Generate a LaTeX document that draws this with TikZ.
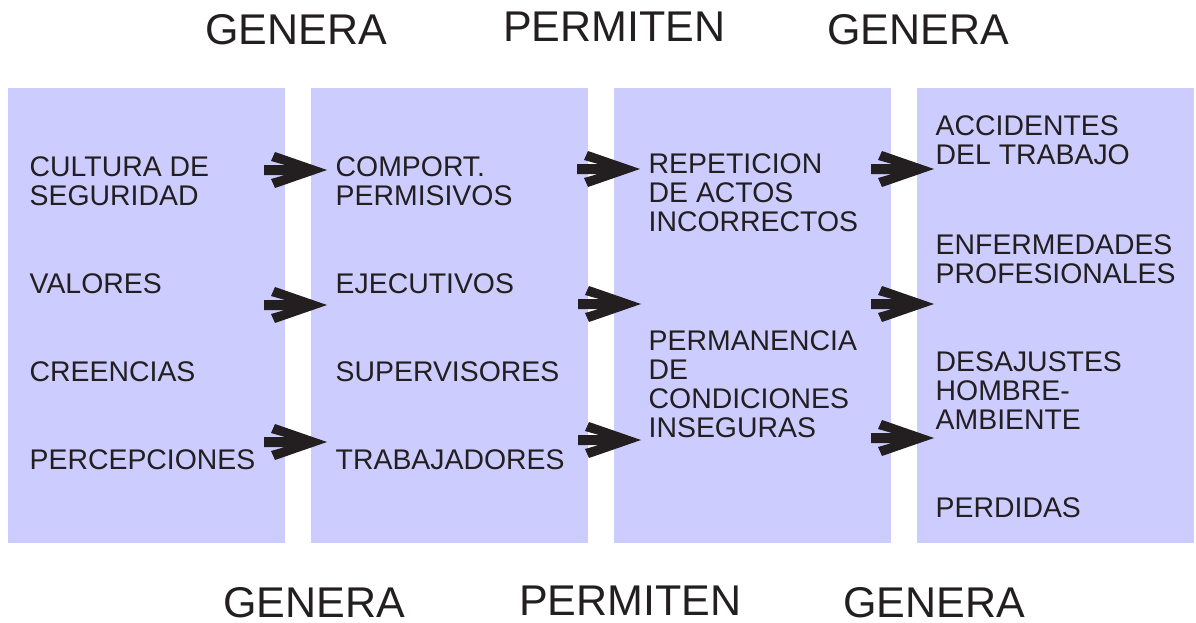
\documentclass[tikz,border=0pt]{standalone}
\usepackage{fontspec}
\setmainfont{Liberation Sans}
\definecolor{panel}{HTML}{CCCCFF}
\definecolor{ink}{HTML}{231F20}
\tikzset{
  panelbox/.style={fill=panel, draw=none, inner sep=0pt, anchor=north west, minimum width=277pt, minimum height=455pt},
  item/.style={anchor=north west, inner sep=0pt, align=left, text=ink, font=\fontsize{28.4}{29}\selectfont},
  heading/.style={anchor=base west, inner sep=0pt, text depth=0pt, text=ink, font=\fontsize{43}{46}\selectfont},
  fatarrow/.pic={\fill[ink] (0,0) -- (-52,-18) -- (-56,-9) -- (-42,-5) -- (-63,-5) -- (-63,5) -- (-42,5) -- (-56,9) -- (-52,18) -- cycle;}
}
\begin{document}
\begin{tikzpicture}[x=1pt,y=-1pt]
\useasboundingbox (0,0) rectangle (1196,623);
% panels
\node[panelbox] (p1) at (8,88) {};
\node[panelbox] (p2) at (311,88) {};
\node[panelbox] (p3) at (614,88) {};
\node[panelbox] (p4) at (917,88) {};
% headings
\node[heading] (ht1) at (205,45) {GENERA};
\node[heading] (ht2) at (503,42) {PERMITEN};
\node[heading] (ht3) at (827,45) {GENERA};
\node[heading] (hb1) at (223,617) {GENERA};
\node[heading] (hb2) at (519,615) {PERMITEN};
\node[heading] (hb3) at (843,617) {GENERA};
% column 1
\node[item] (c1a) at (29.5,156) {CULTURA DE\\SEGURIDAD};
\node[item] (c1b) at (29.5,273) {VALORES};
\node[item] (c1c) at (29.5,361) {CREENCIAS};
\node[item] (c1d) at (29.5,449) {PERCEPCIONES};
% column 2
\node[item] (c2a) at (335.5,156) {COMPORT.\\PERMISIVOS};
\node[item] (c2b) at (335.5,273) {EJECUTIVOS};
\node[item] (c2c) at (335.5,361) {SUPERVISORES};
\node[item] (c2d) at (335.5,449) {TRABAJADORES};
% column 3
\node[item] (c3a) at (648.5,153) {REPETICION\\DE ACTOS\\INCORRECTOS};
\node[item] (c3b) at (648.5,330) {PERMANENCIA\\DE\\CONDICIONES\\INSEGURAS};
% column 4
\node[item] (c4a) at (935.5,115) {ACCIDENTES\\DEL TRABAJO};
\node[item] (c4b) at (935.5,234) {ENFERMEDADES\\PROFESIONALES};
\node[item] (c4c) at (935.5,351) {DESAJUSTES\\HOMBRE-\\AMBIENTE};
\node[item] (c4d) at (935.5,497) {PERDIDAS};
% arrows
\coordinate (a11) at (327,170);
\coordinate (a12) at (327,305);
\coordinate (a13) at (327,442);
\coordinate (a21) at (640,169);
\coordinate (a22) at (641,304);
\coordinate (a23) at (641,440);
\coordinate (a31) at (934,169);
\coordinate (a32) at (934,304);
\coordinate (a33) at (934,438);
\foreach \a in {a11,a12,a13,a21,a22,a23,a31,a32,a33} {\pic at (\a) {fatarrow};}
\end{tikzpicture}
\end{document}
